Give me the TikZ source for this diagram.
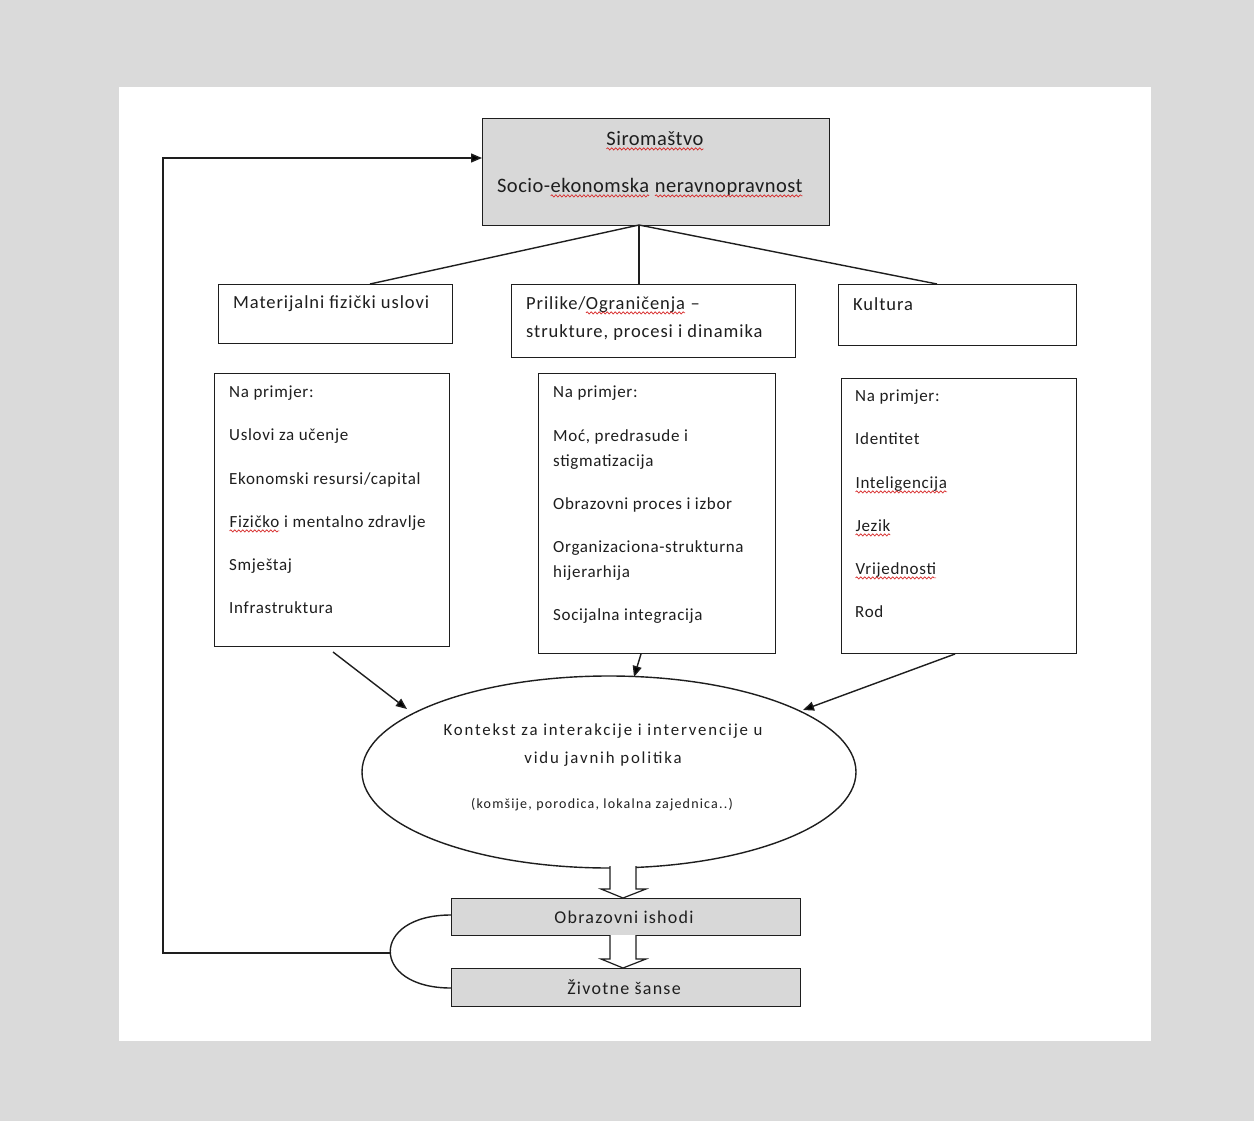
\documentclass[tikz,border=0pt]{standalone}
\usepackage{fontspec}
\setmainfont{Carlito}
\usetikzlibrary{arrows.meta,shapes.geometric,decorations.pathmorphing}
\definecolor{bggray}{RGB}{218,218,218}
\definecolor{boxgray}{RGB}{216,216,216}
\definecolor{ink}{RGB}{30,30,30}
\definecolor{squig}{RGB}{215,40,40}
\newcommand\sperr[1]{\tikz[baseline=(sw.base),x=1pt,y=1pt]{\node[inner sep=0pt,outer sep=0pt,anchor=base,draw=none,fill=none,minimum width=0pt,minimum height=0pt,shape=rectangle,yshift=0pt] (sw) at (0,0) {#1};\draw[squig, line width=0.7pt, decorate, decoration={snake,amplitude=1.1pt,segment length=4pt}] ([yshift=-3.5pt]sw.base west) -- ([yshift=-3.5pt]sw.base east);}}
\newfontfamily\exfont[LetterSpace=4]{Carlito}
\newfontfamily\catfont[LetterSpace=5]{Carlito}
\newfontfamily\topfont[LetterSpace=2.5]{Carlito}
\newfontfamily\ellfont[LetterSpace=11]{Carlito}
\newfontfamily\outfont[LetterSpace=7]{Carlito}
\newfontfamily\smallfont[LetterSpace=8.5]{Carlito}
\tikzset{
  box/.style={draw=ink, line width=1.4pt, anchor=north west, inner sep=0pt},
  gbox/.style={box, fill=boxgray},
  txt/.style={anchor=mid west, inner sep=0pt, text=ink, yshift=-4pt, font=\exfont\fontsize{17}{19}\selectfont},
  ctxt/.style={anchor=mid, inner sep=0pt, text=ink, yshift=-4pt, font=\ellfont\fontsize{16.8}{20}\selectfont},
  outtxt/.style={ctxt, font=\outfont\fontsize{18}{21}\selectfont},
  cat/.style={txt, font=\catfont\fontsize{18.5}{21}\selectfont},
  toptxt/.style={ctxt, font=\topfont\fontsize{20.5}{23}\selectfont},
  conn/.style={draw=ink, line width=1.4pt},
  arr/.style={conn, -{Triangle[length=11pt,width=9pt]}},
  blockarrow/.style={draw=ink, line width=1.2pt, fill=white, line join=miter},
}
\begin{document}
\begin{tikzpicture}[x=1pt,y=-1pt]
\useasboundingbox (0,0) rectangle (1254,1121);
\fill[bggray] (0,0) rectangle (1254,1121);
\fill[white] (119,87) rectangle (1151,1041);

% boxes
\node[gbox, minimum width=347pt, minimum height=107pt] (top) at (482,118) {};
\node[box, minimum width=234pt, minimum height=59pt] (mat) at (218,284) {};
\node[box, minimum width=284pt, minimum height=73pt] (pri) at (511,284) {};
\node[box, minimum width=238pt, minimum height=61pt] (kul) at (838,284) {};
\node[box, minimum width=235pt, minimum height=273pt] (ex1) at (214,373) {};
\node[box, minimum width=237pt, minimum height=280pt] (ex2) at (538,373) {};
\node[box, minimum width=235pt, minimum height=275pt] (ex3) at (841,378) {};
\node[draw=ink, line width=1.4pt, fill=white, ellipse, minimum width=494pt, minimum height=192pt, inner sep=0pt] (ctx) at (609,772) {};
\node[gbox, minimum width=349pt, minimum height=37pt] (obr) at (451,898) {};
\node[gbox, minimum width=349pt, minimum height=38pt] (ziv) at (451,968) {};

% top texts
\node[toptxt] (t1) at (655,139) {\sperr{Siromaštvo}};
\node[toptxt] (t2) at (650,186) {Socio-\sperr{ekonomska} \sperr{neravnopravnost}};

% category texts
\node[cat] (c1) at (233,302) {Materijalni fizički uslovi};
\node[cat] (c2a) at (526,303) {Prilike/\sperr{Ograničenja} –};
\node[cat] (c2b) at (526,331) {strukture, procesi i dinamika};
\node[cat] (c3) at (853,304) {Kultura};

% example texts
\node[txt] (a0) at (229,391) {Na primjer:};
\node[txt] (a1) at (229,434) {Uslovi za učenje};
\node[txt] (a2) at (229,478) {Ekonomski resursi/capital};
\node[txt] (a3) at (229,521) {\sperr{Fizičko} i mentalno zdravlje};
\node[txt] (a4) at (229,564) {Smještaj};
\node[txt] (a5) at (229,607) {Infrastruktura};

\node[txt] (b0) at (553,391) {Na primjer:};
\node[txt] (b1) at (553,435) {Moć, predrasude i};
\node[txt] (b1b) at (553,460) {stigmatizacija};
\node[txt] (b2) at (553,503) {Obrazovni proces i izbor};
\node[txt] (b3) at (553,546) {Organizaciona-strukturna};
\node[txt] (b3b) at (553,571) {hijerarhija};
\node[txt] (b4) at (553,614) {Socijalna integracija};

\node[txt] (d0) at (855,395) {Na primjer:};
\node[txt] (d1) at (855,438) {Identitet};
\node[txt] (d2) at (855,482) {\sperr{Inteligencija}};
\node[txt] (d3) at (855,525) {\sperr{Jezik}};
\node[txt] (d4) at (855,568) {\sperr{Vrijednosti}};
\node[txt] (d5) at (855,611) {Rod};

% ellipse texts
\node[ctxt] (e1) at (603,729) {Kontekst za interakcije i intervencije u};
\node[ctxt] (e2) at (603,757) {vidu javnih politika};
\node[ctxt, font=\smallfont\fontsize{14}{16}\selectfont] (e3) at (602,802) {(komšije, porodica, lokalna zajednica..)};

% outcome texts
\node[outtxt] (o1) at (624,917) {Obrazovni ishodi};
\node[outtxt] (o2) at (624,988) {Životne šanse};

% fan connectors
\coordinate (tb) at (639,225);
\coordinate (matT) at (370,284);
\coordinate (priT) at (639,284);
\coordinate (kulT) at (937,284);
\draw[conn] (matT) -- (tb) -- (kulT);
\draw[conn] (tb) -- (priT);

% arrows into ellipse
\coordinate (ex1B) at (333,652);
\coordinate (ctxL) at (407,709);
\coordinate (ex2B) at (641,654);
\coordinate (ctxM) at (634,677);
\coordinate (ex3B) at (955,654);
\coordinate (ctxR) at (803,710);
\draw[arr] (ex1B) -- (ctxL);
\draw[arr] (ex2B) -- (ctxM);
\draw[arr] (ex3B) -- (ctxR);

% block arrows
\draw[blockarrow] (610,866) -- (610,889) -- (601,889) -- (623,898) -- (646,889) -- (636,889) -- (636,866);
\draw[blockarrow] (610,935) -- (610,959) -- (601,959) -- (623,968) -- (646,959) -- (636,959) -- (636,935);

% loop and feedback
\coordinate (obrL) at (451,915);
\coordinate (zivL) at (451,988);
\coordinate (loopL) at (390,953);
\coordinate (fbB) at (163,953);
\coordinate (fbT) at (163,158);
\coordinate (topL) at (482,158);
\draw[conn] (obrL) .. controls (370,915) and (370,988) .. (zivL);
\draw[arr] (loopL) -- (fbB) -- (fbT) -- (topL);
\end{tikzpicture}
\end{document}
